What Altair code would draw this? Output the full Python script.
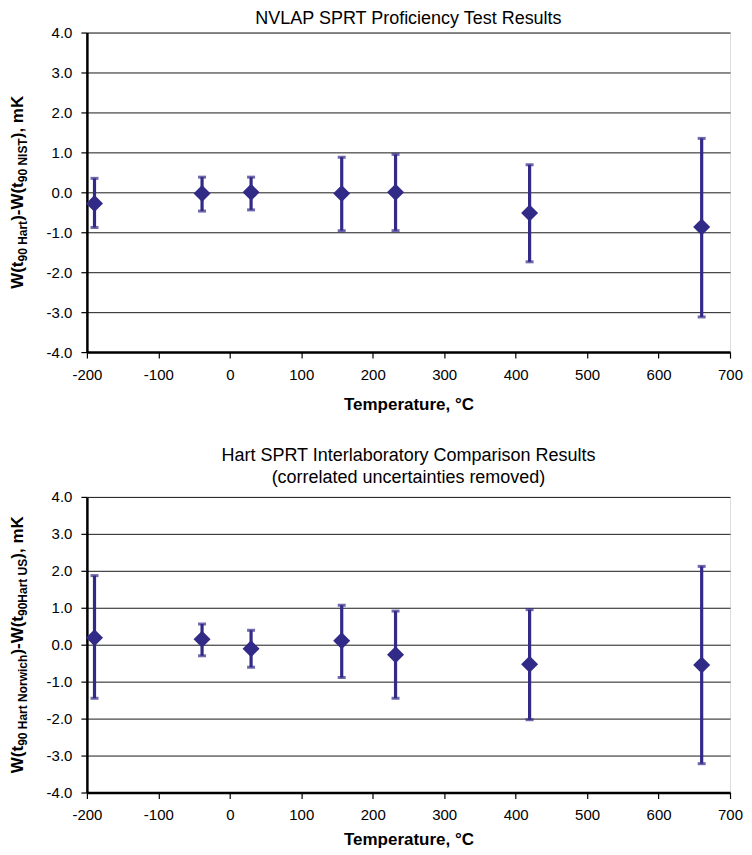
import altair as alt
import pandas as pd

temps = [-189.3442, -38.8344, 29.7646, 156.5985, 231.928, 419.527, 660.323]

top_val = [-0.28, -0.03, 0.00, -0.03, 0.00, -0.52, -0.87]
top_hi = [0.35, 0.38, 0.38, 0.88, 0.95, 0.69, 1.35]
top_lo = [-0.88, -0.47, -0.44, -0.96, -0.96, -1.74, -3.12]

bot_val = [0.19, 0.15, -0.11, 0.11, -0.27, -0.53, -0.55]
bot_hi = [1.87, 0.56, 0.39, 1.07, 0.91, 0.95, 2.12]
bot_lo = [-1.45, -0.30, -0.61, -0.89, -1.45, -2.03, -3.22]

x_ticks = [-200, -100, 0, 100, 200, 300, 400, 500, 600, 700]
y_ticks = [-4, -3, -2, -1, 0, 1, 2, 3, 4]

top_title = "NVLAP SPRT Proficiency Test Results"
bot_title = ["Hart SPRT Interlaboratory Comparison Results",
             "(correlated uncertainties removed)"]
top_ytitle = [("W(t", 0), ("90 Hart", 1), (")-W(t", 0), ("90 NIST", 1), ("), mK", 0)]
bot_ytitle = [("W(t", 0), ("90 Hart Norwich", 1), (")-W(t", 0), ("90Hart US", 1), ("), mK", 0)]

COLOR = "#322A87"
FONT = "Liberation Sans"
W_PLOT = 644
MAIN_FS = 17
SUB_FS = 12

# Arial/Liberation Sans Bold advance widths (per 1000 em) for the title glyphs
BOLD_W = {"W": 944, "(": 333, ")": 333, "t": 333, "9": 556, "0": 556, " ": 278,
          "H": 722, "a": 556, "r": 389, "-": 333, "N": 722, "I": 278, "S": 667,
          "T": 611, ",": 278, "m": 889, "K": 722, "o": 611, "w": 778, "i": 278,
          "c": 556, "h": 611, "U": 722}


def seg_width(s, fs):
    return sum(BOLD_W.get(ch, 556) for ch in s) * fs / 1000.0


def ytitle_layers(segments, h):
    widths = [seg_width(s, SUB_FS if sub else MAIN_FS) for s, sub in segments]
    total = sum(widths)
    start = h / 2 + total / 2  # bottom end of rotated text (plot coords)
    layers = []
    pos = start
    for (s, sub), w in zip(segments, widths):
        fs = SUB_FS if sub else MAIN_FS
        xb = -64 + (4 if sub else 0)
        layers.append(
            alt.Chart(pd.DataFrame({"s": [s]})).mark_text(
                angle=270, align="left", baseline="alphabetic", font=FONT,
                fontSize=fs, fontWeight="bold", color="black",
            ).encode(text="s:N", x=alt.value(xb), y=alt.value(pos))
        )
        pos -= w
    return layers


def panel(vals, his, los, title, ysegs, h, toff, tlh, xtpad):
    df = pd.DataFrame({"t": temps, "v": vals, "hi": his, "lo": los})
    xs = alt.Scale(domain=[-200, 700], nice=False, zero=False)
    ys = alt.Scale(domain=[-4, 4], nice=False, zero=False)
    xax = alt.Axis(values=x_ticks, title="Temperature, °C", grid=False,
                   labelExpr="(datum.value < 0 ? '-' : '') + format(abs(datum.value), 'd')",
                   labelFlush=False, labelOverlap=False,
                   domainColor="black", domainWidth=2.5, tickColor="black",
                   tickSize=6, tickWidth=1.2, labelFont=FONT, labelFontSize=15,
                   labelColor="black", titleFont=FONT, titleFontSize=17,
                   titleFontWeight="bold", titleColor="black", titlePadding=xtpad,
                   labelPadding=9)
    yax = alt.Axis(values=y_ticks, tickCount=9, title=None, grid=True,
                   labelExpr="(datum.value < 0 ? '-' : '') + format(abs(datum.value), '.1f')",
                   labelFlush=False, labelOverlap=False,
                   gridColor="#1a1a1a", gridWidth=1, gridOpacity=1,
                   domainColor="black", domainWidth=2.5, tickColor="black",
                   tickSize=6, tickWidth=1.2, labelFont=FONT, labelFontSize=15,
                   labelColor="black", labelPadding=9)
    X = alt.X("t:Q", scale=xs, axis=xax)
    base = alt.Chart(df)
    rules = base.mark_rule(color=COLOR, strokeWidth=3.2).encode(
        x=X, y=alt.Y("lo:Q", scale=ys, axis=yax), y2="hi:Q")
    cap_hi = base.mark_tick(color=COLOR, thickness=3, size=8, orient="horizontal").encode(
        x=X, y=alt.Y("hi:Q", scale=ys, axis=yax))
    cap_lo = base.mark_tick(color=COLOR, thickness=3, size=8, orient="horizontal").encode(
        x=X, y=alt.Y("lo:Q", scale=ys, axis=yax))
    pts = base.mark_point(shape="diamond", filled=True, size=290, color=COLOR,
                          opacity=1).encode(x=X, y=alt.Y("v:Q", scale=ys, axis=yax))
    layers = [rules, cap_hi, cap_lo, pts] + ytitle_layers(ysegs, h)
    return alt.layer(*layers).properties(
        width=W_PLOT, height=h,
        title=alt.TitleParams(title, font=FONT, fontSize=18, fontWeight="normal",
                              color="black", offset=toff, anchor="middle",
                              lineHeight=tlh),
    )


c1 = panel(top_val, top_hi, top_lo, top_title, top_ytitle, 320, -2, 18, 14)
c2 = panel(bot_val, bot_hi, bot_lo, bot_title, bot_ytitle, 296, 3, 22, 9)

chart = alt.vconcat(c1, c2, spacing=33).configure_view(
    stroke="black", strokeWidth=1
).configure(background="white", padding=0)

chart.save("out.html", embed_options={"renderer": "svg", "actions": False})
